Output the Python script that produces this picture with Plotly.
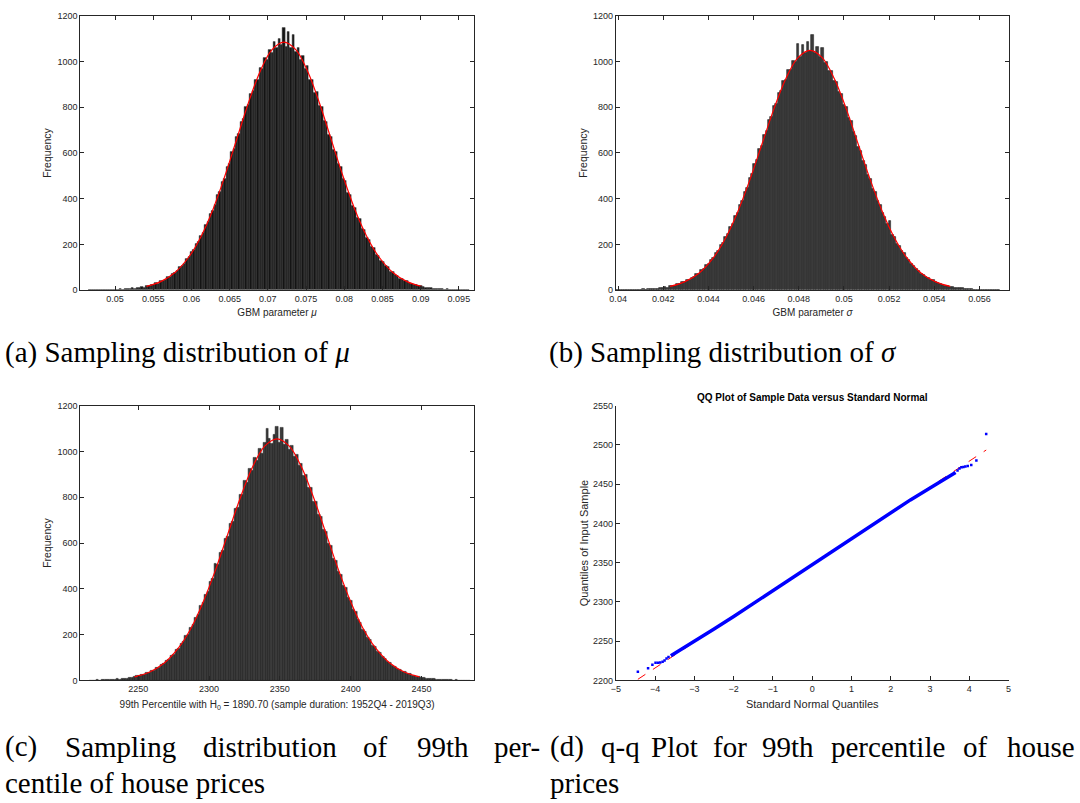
import plotly.graph_objects as go

# ---------------- data ----------------
# (a) bootstrap sampling distribution of the GBM drift mu
mu_first_bin = 0.04668
mu_bin_width = 0.00031
mu_counts = [
    1, 0, 1, 0, 1, 1, 2, 1, 2, 1,
    3, 2, 3, 4, 3, 5, 6, 5, 8, 7,
    10, 9, 13, 12, 18, 17, 23, 22, 30, 29,
    40, 39, 46, 57, 59, 72, 75, 83, 101, 104,
    117, 137, 144, 166, 175, 203, 211, 238, 250, 284,
    297, 333, 347, 372, 415, 431, 472, 488, 541, 552,
    603, 618, 670, 684, 736, 748, 802, 812, 858, 871,
    920, 922, 972, 968, 1015, 1008, 1052, 1040, 1087, 1062,
    1101, 1072, 1148, 1066, 1132, 1060, 1116, 1041, 1061, 1006,
    1025, 968, 981, 919, 921, 865, 869, 806, 804, 742,
    738, 680, 672, 614, 606, 551, 541, 487, 478, 426,
    418, 370, 362, 317, 311, 270, 264, 228, 222, 190,
    184, 156, 152, 128, 125, 104, 100, 82, 80, 66,
    64, 51, 50, 40, 39, 30, 29, 23, 22, 17,
    17, 13, 12, 9, 10, 7, 7, 5, 6, 4,
    3, 4, 2, 2, 3, 1, 1, 2, 1, 0,
    1,
]
mu_fit_x = [0.05412, 0.05598, 0.05784, 0.0597, 0.061255, 0.0628, 0.06435, 0.0659,
            0.06745, 0.069, 0.07055, 0.0721, 0.07365, 0.0752, 0.07675, 0.0783,
            0.07985, 0.0814, 0.08295, 0.0845, 0.08636, 0.08822, 0.09008]
mu_fit_y = [16, 37, 77, 147, 235, 352, 497, 658, 819, 958, 1052, 1085,
            1052, 958, 819, 658, 497, 352, 235, 147, 77, 37, 16]

# (b) bootstrap sampling distribution of the GBM volatility sigma
sigma_first_bin = 0.03994
sigma_bin_width = 0.000107
sigma_counts = [
    1, 0, 2, 1, 1, 2, 1, 2, 2, 3,
    2, 4, 3, 5, 4, 6, 7, 6, 10, 9,
    13, 12, 17, 19, 20, 26, 27, 34, 35, 44,
    45, 55, 58, 70, 72, 88, 92, 110, 114, 134,
    140, 162, 171, 196, 206, 233, 245, 276, 290, 323,
    338, 374, 392, 432, 447, 491, 507, 553, 570, 617,
    632, 681, 695, 745, 757, 806, 815, 863, 870, 916,
    921, 963, 962, 1002, 997, 1077, 1022, 1072, 1036, 1085,
    1046, 1119, 1038, 1065, 1020, 1058, 995, 1000, 958, 960,
    915, 912, 866, 858, 812, 800, 753, 739, 692, 676,
    628, 611, 566, 548, 505, 487, 445, 428, 389, 373,
    336, 322, 288, 305, 243, 232, 204, 194, 170, 161,
    139, 132, 113, 107, 91, 86, 72, 68, 58, 54,
    45, 43, 35, 33, 26, 25, 20, 19, 15, 15,
    11, 11, 8, 8, 6, 6, 4, 5, 3, 3,
    2, 3, 2, 1, 2, 1, 1, 0, 1,
]
sigma_fit_x = [0.042294, 0.042936, 0.043578, 0.04422, 0.044755, 0.04529, 0.045825,
               0.04636, 0.046895, 0.04743, 0.047965, 0.0485, 0.049035, 0.04957,
               0.050105, 0.05064, 0.051175, 0.05171, 0.052245, 0.05278, 0.053422,
               0.054064, 0.054706]
sigma_fit_y = [16, 36, 74, 142, 227, 341, 480, 636, 792, 926, 1017, 1049,
               1017, 926, 792, 636, 480, 341, 227, 142, 74, 36, 16]

# (c) bootstrap sampling distribution of the 99th percentile of house prices
p99_first_bin = 2216.14
p99_bin_width = 1.735
p99_counts = [
    1, 0, 1, 2, 1, 2, 3, 2, 4, 3,
    5, 6, 5, 8, 9, 8, 12, 14, 15, 19,
    20, 26, 27, 33, 35, 43, 44, 55, 57, 70,
    72, 87, 91, 108, 112, 133, 139, 162, 170, 196,
    198, 232, 244, 276, 288, 325, 338, 376, 390, 432,
    446, 512, 505, 556, 566, 620, 629, 686, 692, 750,
    753, 812, 812, 872, 866, 925, 916, 972, 958, 1012,
    992, 1040, 1098, 1055, 1032, 1072, 1108, 1040, 1105, 1030,
    1052, 1008, 1024, 978, 988, 938, 945, 893, 897, 840,
    842, 783, 782, 722, 717, 660, 652, 597, 588, 534,
    525, 474, 462, 416, 404, 362, 350, 311, 300, 264,
    254, 223, 214, 187, 178, 154, 147, 126, 120, 102,
    97, 82, 78, 65, 61, 51, 48, 40, 37, 31,
    29, 23, 22, 17, 17, 13, 13, 9, 10, 7,
    7, 5, 5, 3, 4, 2, 3, 2, 1, 2,
    1, 1, 0, 1, 1,
]
p99_fit_x = [2247.4, 2257.8, 2268.2, 2278.6, 2287.3, 2295.9, 2304.6, 2313.3, 2322.0,
             2330.65, 2339.3, 2348.0, 2356.7, 2365.35, 2374.0, 2382.7, 2391.4,
             2400.1, 2408.7, 2417.4, 2427.8, 2438.2, 2448.6]
p99_fit_y = [16, 36, 75, 143, 228, 343, 483, 640, 796, 931, 1023, 1055,
             1023, 931, 796, 640, 483, 343, 228, 143, 75, 36, 16]

# (d) q-q plot of the 99th percentile sample against the standard normal
qq_body_z = [-3.6, -3.4, -3.2, -3.0, -2.5, -2.0, -1.5, -1.0, -0.5, 0.0,
             0.5, 1.0, 1.5, 2.0, 2.5, 3.0, 3.3, 3.5, 3.65]
qq_body_q = [2231.5, 2237.5, 2244, 2250.5, 2265.5, 2281.5, 2298, 2314.5, 2331, 2347.5,
             2364, 2380.5, 2397, 2413.5, 2430, 2445, 2454.5, 2460.5, 2465]
qq_tail_z = [-4.44, -4.18, -4.07, -3.99, -3.93, -3.87, -3.81, -3.76, -3.71, -3.66,
             3.7, 3.75, 3.8, 3.85, 3.9, 3.96, 4.05, 4.18, 4.43]
qq_tail_q = [2211, 2215.5, 2220, 2222.5, 2222.5, 2223, 2224, 2225.5, 2228, 2230,
             2467.5, 2470, 2471.5, 2472, 2472.5, 2473, 2474.5, 2480, 2514]
qq_ref_z = [-4.44, 4.43]
qq_ref_q = [2201.5, 2493.5]

# ---------------- styling ----------------
W, H = 1080, 803
AX_COLOR = "#262626"
SANS = "Liberation Sans Narrow, Arial Narrow, Liberation Sans, Arial, sans-serif"
SERIF = "Liberation Serif, Times New Roman, serif"
tick_font = dict(family=SANS, size=9, color=AX_COLOR)
title_font = dict(family=SANS, size=10, color=AX_COLOR)
ytitle_font = dict(family="Liberation Sans, Arial, sans-serif", size=10.5, color=AX_COLOR)


def px_x(p):
    return p / W


def px_y(p):
    return 1 - p / H


def axis_common(**kw):
    d = dict(showline=True, linecolor=AX_COLOR, linewidth=1, ticks="inside",
             ticklen=4, tickwidth=1, tickcolor=AX_COLOR, showgrid=False,
             zeroline=False, tickfont=tick_font)
    d.update(kw)
    return d


fig = go.Figure()

hist_panels = [
    (mu_first_bin, mu_bin_width, mu_counts, mu_fit_x, mu_fit_y, "#141414", "#4d4d4d", "x", "y"),
    (sigma_first_bin, sigma_bin_width, sigma_counts, sigma_fit_x, sigma_fit_y, "#3b3b3b", "#1a1a1a", "x2", "y2"),
    (p99_first_bin, p99_bin_width, p99_counts, p99_fit_x, p99_fit_y, "#3b3b3b", "#1a1a1a", "x3", "y3"),
]
for x0, dx, counts, fx, fy, face, edge, xa, ya in hist_panels:
    fig.add_trace(go.Bar(x0=x0, dx=dx, y=counts, width=dx, xaxis=xa, yaxis=ya,
                         marker=dict(color=face, line=dict(color=edge, width=0.5))))
    fig.add_trace(go.Scatter(x=fx, y=fy, mode="lines", xaxis=xa, yaxis=ya,
                             line=dict(color="#ff0000", width=1.2, shape="spline")))

# q-q panel: reference line first so the sample quantiles sit on top of it
fig.add_trace(go.Scatter(x=qq_ref_z, y=qq_ref_q, mode="lines", xaxis="x4", yaxis="y4",
                         line=dict(color="#ff0000", width=1, dash="dash")))
fig.add_trace(go.Scatter(x=qq_body_z, y=qq_body_q, mode="lines", xaxis="x4", yaxis="y4",
                         line=dict(color="#0000ff", width=3.5)))
fig.add_trace(go.Scatter(x=qq_tail_z, y=qq_tail_q, mode="markers", xaxis="x4", yaxis="y4",
                         marker=dict(color="#0000ff", symbol="square", size=2.5)))

left_dom = [px_x(75), px_x(471.7)]
right_dom = [px_x(615), px_x(1011.7)]
top_dom = [px_y(288.7), px_y(11)]
bot_dom = [px_y(684), px_y(405.7)]

freq_y = dict(range=[0, 1200], dtick=200, tick0=0)

fig.update_layout(
    width=W, height=H, margin=dict(l=0, r=0, t=0, b=0),
    paper_bgcolor="white", plot_bgcolor="white", showlegend=False,
    bargap=0, barmode="overlay",
    xaxis=axis_common(domain=left_dom, anchor="y", range=[0.04546, 0.09695],
                      tick0=0.05, dtick=0.005, mirror="ticks",
                      title=dict(text="GBM parameter <i>μ</i>", font=title_font, standoff=6)),
    yaxis=axis_common(domain=top_dom, anchor="x", mirror="ticks", **freq_y,
                      title=dict(text="Frequency", font=ytitle_font, standoff=3)),
    xaxis2=axis_common(domain=right_dom, anchor="y2", range=[0.0399, 0.05732],
                       tick0=0.04, dtick=0.002, mirror="ticks",
                       title=dict(text="GBM parameter <i>σ</i>", font=title_font, standoff=6)),
    yaxis2=axis_common(domain=top_dom, anchor="x2", mirror="ticks", **freq_y,
                       title=dict(text="Frequency", font=ytitle_font, standoff=3)),
    xaxis3=axis_common(domain=left_dom, anchor="y3", range=[2209.2, 2486.9],
                       tick0=2250, dtick=50, mirror="ticks",
                       title=dict(text="99th Percentile with H<sub>0</sub> = 1890.70 (sample duration: 1952Q4 - 2019Q3)",
                                  font=title_font, standoff=7)),
    yaxis3=axis_common(domain=bot_dom, anchor="x3", mirror="ticks", **freq_y,
                       title=dict(text="Frequency", font=ytitle_font, standoff=3)),
    xaxis4=axis_common(domain=[px_x(615), px_x(1011)], anchor="y4", range=[-5, 5],
                       tick0=-5, dtick=1,
                       title=dict(text="Standard Normal Quantiles",
                                  font=dict(family=SANS, size=11, color=AX_COLOR), standoff=7)),
    yaxis4=axis_common(domain=bot_dom, anchor="x4", range=[2200, 2550], tick0=2200, dtick=50,
                       title=dict(text="Quantiles of Input Sample",
                                  font=dict(family="Liberation Sans, Arial, sans-serif", size=11,
                                            color=AX_COLOR), standoff=2)),
)

annotations = [
    dict(text="<b>QQ Plot of Sample Data versus Standard Normal</b>", x=px_x(813), y=px_y(397),
         font=dict(family=SANS, size=10, color="black")),
]

cap_font = dict(family=SERIF, size=29, color="black")
caption_words = [
    ("(a) Sampling distribution of <i>μ</i>", -3, 352),
    ("(b) Sampling distribution of <i>σ</i>", 546, 352),
    ("(c)", -3, 751), ("Sampling", 57, 751), ("distribution", 197, 751), ("of", 358, 751),
    ("99th", 412, 751), ("per-", 490, 751),
    ("centile of house prices", -3, 788),
    ("(d)", 547, 751), ("q-q", 598, 751), ("Plot", 648, 751), ("for", 711, 751),
    ("99th", 760, 751), ("percentile", 830, 751), ("of", 963, 751), ("house", 1007, 751),
    ("prices", 547, 788),
]
for text, px, py in caption_words:
    annotations.append(dict(text=text, x=px_x(px), y=px_y(py), xanchor="left",
                            font=cap_font))

for a in annotations:
    a.setdefault("xanchor", "center")
    a.update(xref="paper", yref="paper", yanchor="middle", showarrow=False)

fig.update_layout(annotations=annotations)

fig.write_html("out.html")
